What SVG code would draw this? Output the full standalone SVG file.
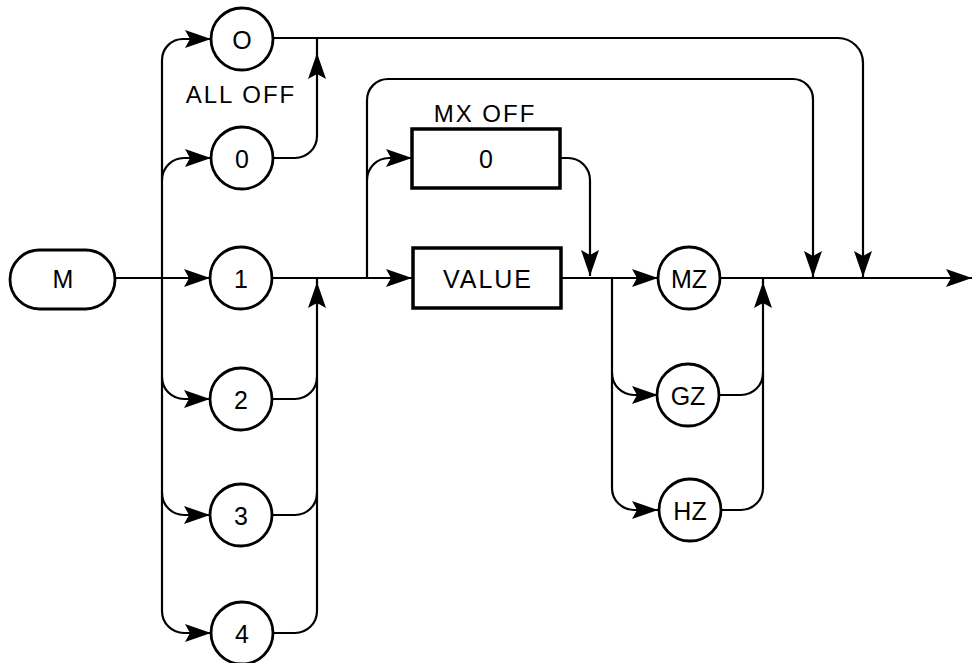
<svg xmlns="http://www.w3.org/2000/svg" width="973" height="663" viewBox="0 0 973 663">
<defs>
<style>
.ln{fill:none;stroke:#000;stroke-width:2.2}
.arr{marker-end:url(#ah)}
.nd{fill:#fff;stroke:#000;stroke-width:2.8}
.bx{fill:#fff;stroke:#000;stroke-width:3.5}
.t{font-family:"Liberation Sans",Arial,sans-serif;font-size:25px;fill:#000;text-anchor:middle;dominant-baseline:central}
.lb{font-family:"Liberation Sans",Arial,sans-serif;font-size:24px;fill:#000;text-anchor:middle;letter-spacing:2px}
</style>
<marker id="ah" viewBox="0 0 26 18" refX="26" refY="9" markerWidth="26" markerHeight="18" markerUnits="userSpaceOnUse" orient="auto">
<path d="M0,0 L26,9 L0,18 L5,9 Z" fill="#000"/>
</marker>
</defs>
<rect width="973" height="663" fill="#fff"/>
<g id="connectors">
<path class="ln arr" d="M115,278 H210"/>
<path class="ln arr" d="M162,278 V60 A21 21 0 0 1 183 39 H211"/>
<path class="ln arr" d="M162,180 A22 22 0 0 1 184 158 H211"/>
<path class="ln arr" d="M162,278 V377 A22 22 0 0 0 184 399 H210"/>
<path class="ln arr" d="M162,377 V493 A22 22 0 0 0 184 515 H210"/>
<path class="ln arr" d="M162,493 V611 A22 22 0 0 0 184 633 H211"/>
<path class="ln arr" d="M273,633 H295 A22 22 0 0 0 317 611 V282"/>
<path class="ln" d="M273,515 H295 A22 22 0 0 0 317 493"/>
<path class="ln" d="M273,399 H295 A22 22 0 0 0 317 377"/>
<path class="ln" d="M317,283 V278"/>
<path class="ln arr" d="M273,278 H412"/>
<path class="ln arr" d="M273,158 H295 A22 22 0 0 0 317 136 V53"/>
<path class="ln" d="M317,54 V38"/>
<path class="ln arr" d="M273,38 H838 A25 25 0 0 1 863 63 V277"/>
<path class="ln arr" d="M367,278 V100 A21 21 0 0 1 388 79 H793 A20 20 0 0 1 813 99 V277"/>
<path class="ln arr" d="M367,180 A22 22 0 0 1 389 158 H412"/>
<path class="ln arr" d="M560,158 H568 A22 22 0 0 1 590 180 V276"/>
<path class="ln arr" d="M560,278 H658"/>
<path class="ln arr" d="M612,278 V373 A22 22 0 0 0 634 395 H658"/>
<path class="ln arr" d="M612,373 V488 A22 22 0 0 0 634 510 H658"/>
<path class="ln arr" d="M720,510 H741 A22 22 0 0 0 763 488 V282"/>
<path class="ln" d="M720,395 H741 A22 22 0 0 0 763 373"/>
<path class="ln" d="M763,283 V278"/>
<path class="ln arr" d="M720,278 H972"/>
</g>
<g id="node-M"><rect class="nd" x="10" y="250" width="105" height="59" rx="29.5"/><text class="t" x="63" y="279">M</text></g>
<g id="node-O"><circle class="nd" cx="242" cy="39" r="31"/><text class="t" x="242" y="40">O</text></g>
<g id="label-alloff"><text class="lb" x="241" y="103">ALL OFF</text></g>
<g id="node-0"><circle class="nd" cx="242" cy="158" r="31"/><text class="t" x="242" y="159">0</text></g>
<g id="node-1"><circle class="nd" cx="241" cy="278" r="31"/><text class="t" x="241" y="279">1</text></g>
<g id="node-2"><circle class="nd" cx="241" cy="399" r="31"/><text class="t" x="241" y="400">2</text></g>
<g id="node-3"><circle class="nd" cx="241" cy="515" r="31"/><text class="t" x="241" y="516">3</text></g>
<g id="node-4"><circle class="nd" cx="242" cy="633" r="31"/><text class="t" x="242" y="634">4</text></g>
<g id="label-mxoff"><text class="lb" x="485" y="122">MX OFF</text></g>
<g id="node-mx0"><rect class="bx" x="412" y="129" width="148" height="59"/><text class="t" x="486" y="159">0</text></g>
<g id="node-value"><rect class="bx" x="413" y="248" width="148" height="60"/><text class="t" x="488" y="279" style="letter-spacing:2px">VALUE</text></g>
<g id="node-MZ"><circle class="nd" cx="689" cy="278" r="31"/><text class="t" x="689" y="279">MZ</text></g>
<g id="node-GZ"><circle class="nd" cx="688" cy="395" r="31"/><text class="t" x="688" y="396">GZ</text></g>
<g id="node-HZ"><circle class="nd" cx="690" cy="510" r="31"/><text class="t" x="690" y="511">HZ</text></g>
</svg>
